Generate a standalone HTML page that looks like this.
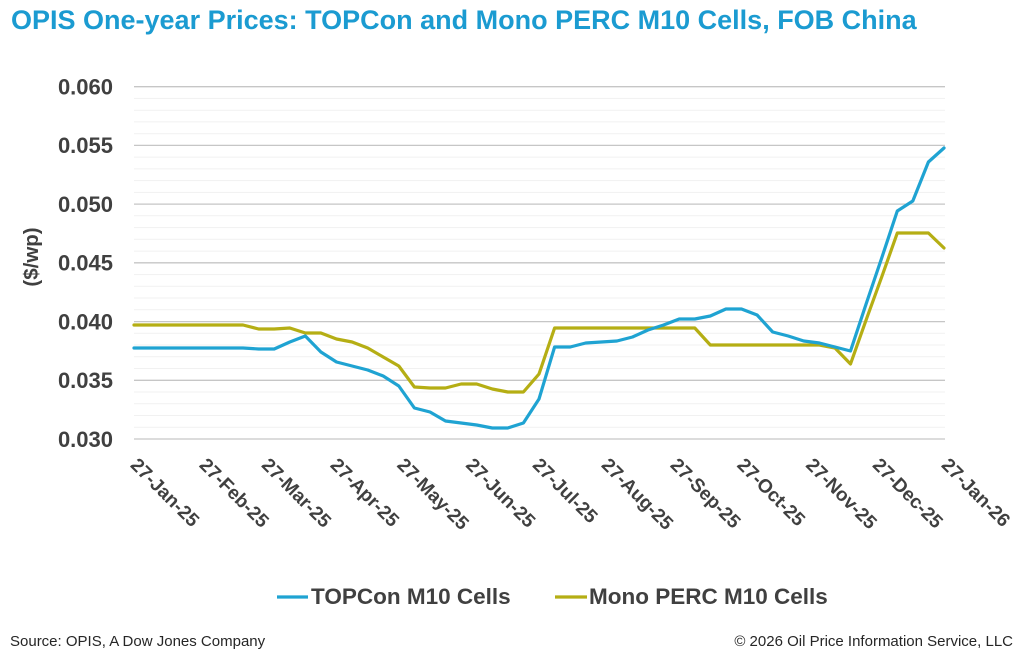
<!DOCTYPE html>
<html>
<head>
<meta charset="utf-8">
<style>
  html, body { margin:0; padding:0; background:#ffffff; }
  body { width:1024px; height:658px; overflow:hidden; }
  svg { display:block; }
  text { font-family: "Liberation Sans", Arial, sans-serif; }
</style>
</head>
<body>
<svg width="1024" height="658" viewBox="0 0 1024 658" xmlns="http://www.w3.org/2000/svg">
  <rect x="0" y="0" width="1024" height="658" fill="#ffffff"/>

  <!-- Title -->
  <text x="11" y="29" font-size="27" font-weight="bold" fill="#1b9bd1">OPIS One-year Prices: TOPCon and Mono PERC M10 Cells, FOB China</text>

  <!-- minor gridlines -->
  <g stroke="#f1f1f1" stroke-width="1">
    <line x1="134" x2="945" y1="98.4" y2="98.4"/>
    <line x1="134" x2="945" y1="110.2" y2="110.2"/>
    <line x1="134" x2="945" y1="121.9" y2="121.9"/>
    <line x1="134" x2="945" y1="133.7" y2="133.7"/>
    <line x1="134" x2="945" y1="157.1" y2="157.1"/>
    <line x1="134" x2="945" y1="168.9" y2="168.9"/>
    <line x1="134" x2="945" y1="180.6" y2="180.6"/>
    <line x1="134" x2="945" y1="192.4" y2="192.4"/>
    <line x1="134" x2="945" y1="215.8" y2="215.8"/>
    <line x1="134" x2="945" y1="227.6" y2="227.6"/>
    <line x1="134" x2="945" y1="239.3" y2="239.3"/>
    <line x1="134" x2="945" y1="251.1" y2="251.1"/>
    <line x1="134" x2="945" y1="274.6" y2="274.6"/>
    <line x1="134" x2="945" y1="286.3" y2="286.3"/>
    <line x1="134" x2="945" y1="298.0" y2="298.0"/>
    <line x1="134" x2="945" y1="309.8" y2="309.8"/>
    <line x1="134" x2="945" y1="333.3" y2="333.3"/>
    <line x1="134" x2="945" y1="345.0" y2="345.0"/>
    <line x1="134" x2="945" y1="356.8" y2="356.8"/>
    <line x1="134" x2="945" y1="368.5" y2="368.5"/>
    <line x1="134" x2="945" y1="392.0" y2="392.0"/>
    <line x1="134" x2="945" y1="403.8" y2="403.8"/>
    <line x1="134" x2="945" y1="415.5" y2="415.5"/>
    <line x1="134" x2="945" y1="427.3" y2="427.3"/>
  </g>

  <!-- major gridlines -->
  <g stroke="#c6c6c6" stroke-width="1.3">
    <line x1="134" x2="945" y1="86.7" y2="86.7"/>
    <line x1="134" x2="945" y1="145.4" y2="145.4"/>
    <line x1="134" x2="945" y1="204.1" y2="204.1"/>
    <line x1="134" x2="945" y1="262.8" y2="262.8"/>
    <line x1="134" x2="945" y1="321.6" y2="321.6"/>
    <line x1="134" x2="945" y1="380.3" y2="380.3"/>
    <line x1="134" x2="945" y1="439.0" y2="439.0"/>
  </g>

  <!-- Y axis labels -->
  <g font-size="22" font-weight="bold" fill="#404040" text-anchor="end">
    <text x="113" y="94.5">0.060</text>
    <text x="113" y="153.2">0.055</text>
    <text x="113" y="211.9">0.050</text>
    <text x="113" y="270.6">0.045</text>
    <text x="113" y="329.4">0.040</text>
    <text x="113" y="388.1">0.035</text>
    <text x="113" y="446.8">0.030</text>
  </g>

  <!-- Y axis title -->
  <text x="0" y="0" font-size="20.5" font-weight="bold" fill="#404040" text-anchor="middle" transform="translate(38,257) rotate(-90)">($/wp)</text>

  <!-- X axis labels -->
  <g font-size="19" font-weight="bold" fill="#404040">
    <text transform="translate(129.5,466) rotate(45)">27-Jan-25</text>
    <text transform="translate(198.4,466) rotate(45)">27-Feb-25</text>
    <text transform="translate(260.6,466) rotate(45)">27-Mar-25</text>
    <text transform="translate(329.4,466) rotate(45)">27-Apr-25</text>
    <text transform="translate(396.1,466) rotate(45)">27-May-25</text>
    <text transform="translate(464.9,466) rotate(45)">27-Jun-25</text>
    <text transform="translate(531.6,466) rotate(45)">27-Jul-25</text>
    <text transform="translate(600.5,466) rotate(45)">27-Aug-25</text>
    <text transform="translate(669.4,466) rotate(45)">27-Sep-25</text>
    <text transform="translate(736.1,466) rotate(45)">27-Oct-25</text>
    <text transform="translate(804.9,466) rotate(45)">27-Nov-25</text>
    <text transform="translate(871.6,466) rotate(45)">27-Dec-25</text>
    <text transform="translate(940.5,466) rotate(45)">27-Jan-26</text>
  </g>

  <!-- Mono PERC series -->
  <polyline fill="none" stroke="#b5ae14" stroke-width="3.2" stroke-linejoin="round" stroke-linecap="round"
    points="134.0,325 149.6,325 165.2,325 180.7,325 196.3,325 211.9,325 227.5,325 243.0,325 258.6,329 274.2,329 289.8,328 305.3,333 320.9,333 336.5,339 352.1,342 367.7,348 383.2,357 398.8,366 414.4,387 430.0,388 445.5,388 461.1,384 476.7,384 492.3,389 507.8,392 523.4,392 539.0,374 554.6,328 570.2,328 585.7,328 601.3,328 616.9,328 632.5,328 648.0,328 663.6,328 679.2,328 694.8,328 710.3,345 725.9,345 741.5,345 757.1,345 772.7,345 788.2,345 803.8,345 819.4,345 835.0,348 850.5,364 866.1,320 881.7,277 897.3,233 912.8,233 928.4,233 944.0,248"/>

  <!-- TOPCon series -->
  <polyline fill="none" stroke="#1fa3d2" stroke-width="3.2" stroke-linejoin="round" stroke-linecap="round"
    points="134.0,348 149.6,348 165.2,348 180.7,348 196.3,348 211.9,348 227.5,348 243.0,348 258.6,349 274.2,349 289.8,342 305.3,336 320.9,352 336.5,362 352.1,366 367.7,370 383.2,376 398.8,386 414.4,408 430.0,412 445.5,421 461.1,423 476.7,425 492.3,428 507.8,428 523.4,423 539.0,399 554.6,347 570.2,347 585.7,343 601.3,342 616.9,341 632.5,337 648.0,330 663.6,325 679.2,319 694.8,319 710.3,316 725.9,309 741.5,309 757.1,315 772.7,332 788.2,336 803.8,341 819.4,343 835.0,347 850.5,351 866.1,304 881.7,258 897.3,211 912.8,201 928.4,162 944.0,148"/>

  <!-- Legend -->
  <line x1="277" x2="308" y1="597" y2="597" stroke="#1fa3d2" stroke-width="3.2"/>
  <text x="311" y="604" font-size="22.5" font-weight="bold" fill="#404040">TOPCon M10 Cells</text>
  <line x1="555" x2="587" y1="597" y2="597" stroke="#b5ae14" stroke-width="3.2"/>
  <text x="589" y="604" font-size="22.5" font-weight="bold" fill="#404040">Mono PERC M10 Cells</text>

  <!-- Footer -->
  <text x="10" y="646" font-size="15" fill="#262626">Source: OPIS, A Dow Jones Company</text>
  <text x="1013" y="646" font-size="15" fill="#262626" text-anchor="end">© 2026 Oil Price Information Service, LLC</text>
</svg>
</body>
</html>
